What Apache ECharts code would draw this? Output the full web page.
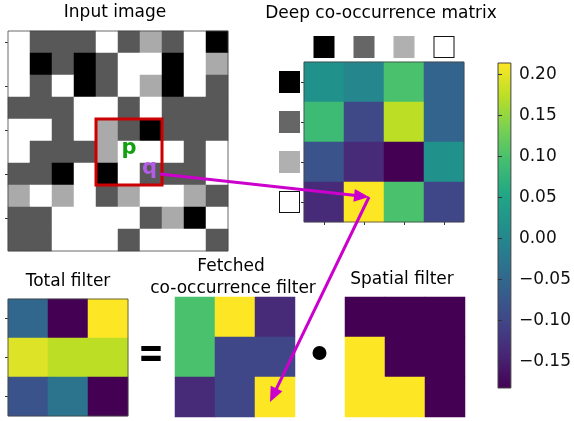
<!DOCTYPE html>
<html><head><meta charset="utf-8">
<script src="https://cdn.jsdelivr.net/npm/echarts@6/dist/echarts.min.js"></script>
<style>html,body{margin:0;padding:0;background:#fff}#c{width:574px;height:421px}</style>
</head><body><div id="c"></div>
<script>
// ---------- data ----------
const LEVELS = ['black', 'dark gray', 'light gray', 'white'];
const INPUT_COLORS = ['#000000', '#585858', '#aaaaaa', '#ffffff'];
const HEADER_COLORS = ['#000000', '#666666', '#b0b0b0', '#ffffff'];
const INPUT_IMAGE = [
  [3,1,1,1,3,1,2,1,3,0],
  [3,0,1,0,1,3,3,0,3,2],
  [3,1,3,0,1,3,2,0,3,1],
  [1,1,1,3,3,1,3,1,1,1],
  [3,3,1,3,2,1,0,1,1,1],
  [3,1,1,1,2,3,3,3,1,3],
  [1,1,0,3,0,3,1,1,1,3],
  [2,3,2,3,1,2,3,3,2,1],
  [1,1,3,3,3,3,1,2,0,3],
  [1,1,3,3,3,1,3,3,3,1]
];
const COOC = [
  [0.016, 0.000, 0.099, -0.055],
  [0.087, -0.095, 0.174, -0.055],
  [-0.079, -0.134, -0.182, 0.016],
  [-0.134, 0.214, 0.099, -0.099]
];
const TOTAL = [
  [-0.051, -0.182, 0.214],
  [0.194, 0.174, 0.174],
  [-0.079, -0.032, -0.182]
];
const FETCHED = [
  [0.099, 0.214, -0.134],
  [0.099, -0.099, -0.099],
  [-0.134, -0.099, 0.214]
];
const SPATIAL = [
  [0, 0, 0],
  [1, 0, 0],
  [1, 1, 0]
];
const CB_MIN = -0.182, CB_MAX = 0.214;
const CB_TICKS = [-0.15, -0.10, -0.05, 0.00, 0.05, 0.10, 0.15, 0.20];
const VIRIDIS = ['#440154','#482475','#414487','#355f8d','#2a788e','#21918c','#22a884','#44bf70','#7ad151','#bddf26','#fde725'];
const P_CELL = [5, 5], Q_CELL = [6, 6];          // [col,row] in input image
const WINDOW = [[4, 4], [6, 6]];                 // red window
const COOC_HIT = [1, 3];                         // [col,row] in co-occurrence matrix
const FETCH_HIT = [2, 2];                        // [col,row] in fetched filter

// ---------- helpers ----------
const FONT = '"DejaVu Sans", sans-serif';
const idx = n => Array.from({length: n}, (_, i) => i);
const toCells = m => { const out = []; m.forEach((row, r) => row.forEach((v, c) => out.push([c, r, v]))); return out; };
const catAxis = (grid, n, extra) => Object.assign({
  type: 'category', gridIndex: grid, data: idx(n), boundaryGap: true,
  axisLine: {show: false}, axisTick: {show: false}, axisLabel: {show: false}, splitLine: {show: false}
}, extra || {});
const tickStyle = {show: true, alignWithLabel: true, length: 3, lineStyle: {color: '#333', width: 1}};
const squareRich = {};
HEADER_COLORS.forEach((c, i) => {
  squareRich['s' + i] = {width: 19, height: 20, backgroundColor: c, borderColor: i === 3 ? '#111' : c, borderWidth: 1};
});
const squareLabel = (margin) => ({show: true, interval: 0, margin: margin, formatter: v => '{s' + v + '| }', rich: squareRich});
const heat = (xi, yi, m) => ({type: 'heatmap', xAxisIndex: xi, yAxisIndex: yi, data: toCells(m),
  itemStyle: {borderWidth: 0}, emphasis: {disabled: true}, progressive: 0});

const chart = echarts.init(document.getElementById('c'), null, {renderer: 'canvas'});

const option = {
  animation: false,
  backgroundColor: '#fff',
  grid: [
    {left: 8, top: 31, width: 220, height: 220},
    {left: 304, top: 62, width: 160, height: 160},
    {left: 8, top: 299, width: 120, height: 117},
    {left: 175, top: 297, width: 120, height: 120},
    {left: 345, top: 297, width: 120, height: 120},
    {left: 498, top: 63, width: 15, height: 325, show: true, borderColor: '#444', borderWidth: 1,
     backgroundColor: new echarts.graphic.LinearGradient(0, 1, 0, 0, VIRIDIS.map((c, i) => ({offset: i / (VIRIDIS.length - 1), color: c})))}
  ],
  xAxis: [
    catAxis(0, 10),
    catAxis(1, 4, {position: 'top', axisLabel: squareLabel(5)}),
    catAxis(1, 4, {position: 'bottom', axisTick: tickStyle}),
    catAxis(2, 3),
    catAxis(3, 3),
    catAxis(4, 3),
    {type: 'value', gridIndex: 5, min: 0, max: 1, show: false}
  ],
  yAxis: [
    catAxis(0, 10, {inverse: true, axisTick: Object.assign({}, tickStyle, {interval: i => i % 2 === 0})}),
    catAxis(1, 4, {inverse: true, axisTick: tickStyle, axisLabel: squareLabel(5)}),
    catAxis(2, 3, {inverse: true, axisTick: tickStyle}),
    catAxis(3, 3, {inverse: true}),
    catAxis(4, 3, {inverse: true}),
    {type: 'value', gridIndex: 5, min: CB_MIN, max: CB_MAX, position: 'right',
     splitLine: {show: false}, axisLine: {show: false},
     axisTick: {show: true, length: 4, customValues: CB_TICKS, lineStyle: {color: '#333'}},
     axisLabel: {show: true, margin: 8, customValues: CB_TICKS, color: '#111', fontSize: 17, fontFamily: FONT,
       formatter: v => (v < 0 ? '\u2212' : '') + Math.abs(v).toFixed(2)}}
  ],
  visualMap: [
    {type: 'piecewise', show: false, seriesIndex: 0, pieces: INPUT_COLORS.map((c, i) => ({value: i, color: c}))},
    {type: 'continuous', show: false, seriesIndex: [1, 2, 3], min: CB_MIN, max: CB_MAX, inRange: {color: VIRIDIS}},
    {type: 'continuous', show: false, seriesIndex: 4, min: 0, max: 1, inRange: {color: ['#440154', '#fde725']}}
  ],
  series: [
    heat(0, 0, INPUT_IMAGE),
    heat(2, 1, COOC),
    heat(3, 2, TOTAL),
    heat(4, 3, FETCHED),
    heat(5, 4, SPATIAL)
  ]
};
chart.setOption(option);

// ---------- annotations computed from the axes ----------
const px = (g, cell) => chart.convertToPixel({gridIndex: g}, cell);
const G = [];
const txt = (x, y, s, size, extra) => G.push({type: 'text', z: 100, style: Object.assign({
  x: x, y: y, text: s, font: size + 'px ' + FONT, fill: '#000', align: 'center', verticalAlign: 'middle',
  textAlign: 'center', textVerticalAlign: 'middle'}, extra || {})});

// titles
txt(115, 12.5, 'Input image', 17);
txt(381, 13.5, 'Deep co-occurrence matrix', 17);
txt(68, 282, 'Total filter', 17);
txt(231, 267, 'Fetched', 17);
txt(233, 289, 'co-occurrence filter', 17);
txt(402, 279.5, 'Spatial filter', 17);
G.push({type: 'text', z: 100, x: 151, y: 355, scaleY: 1.45, style: {x: 0, y: 0, text: '=', font: 'bold 31px ' + FONT, fill: '#000', align: 'center', verticalAlign: 'middle'}});
G.push({type: 'circle', z: 100, shape: {cx: 319.5, cy: 353, r: 7}, style: {fill: '#000'}});

// grid frames
[[0, 10, 10], [1, 4, 4], [2, 3, 3]].forEach(([g, nc, nr]) => {
  const a = px(g, [0, 0]), b = px(g, [nc - 1, nr - 1]);
  const cw = (b[0] - a[0]) / (nc - 1), ch = (b[1] - a[1]) / (nr - 1);
  G.push({type: 'rect', z: 90, shape: {x: a[0] - cw / 2, y: a[1] - ch / 2, width: b[0] - a[0] + cw, height: b[1] - a[1] + ch},
    style: {fill: 'none', stroke: '#444', lineWidth: 0.8}});
});

// red window
{
  const a = px(0, WINDOW[0]), b = px(0, WINDOW[1]);
  const cw = (b[0] - a[0]) / (WINDOW[1][0] - WINDOW[0][0]), ch = (b[1] - a[1]) / (WINDOW[1][1] - WINDOW[0][1]);
  G.push({type: 'rect', z: 95, shape: {x: a[0] - cw / 2, y: a[1] - ch / 2, width: b[0] - a[0] + cw, height: b[1] - a[1] + ch},
    style: {fill: 'none', stroke: '#cc0000', lineWidth: 3}});
}

// p, q labels
const pP = px(0, P_CELL), pQ = px(0, Q_CELL);
txt(pP[0], pP[1] - 3.5, 'p', 21, {font: 'bold 21px ' + FONT, fill: '#12a012'});
txt(pQ[0] - 1.5, pQ[1] - 5, 'q', 21, {font: 'bold 21px ' + FONT, fill: '#b45ce8'});

// arrows
function arrow(A, B) {
  const dx = B[0] - A[0], dy = B[1] - A[1], L = Math.hypot(dx, dy), ux = dx / L, uy = dy / L;
  const hl = 15, hw = 6.5;
  const bx = B[0] - ux * hl, by = B[1] - uy * hl;
  G.push({type: 'line', z: 110, shape: {x1: A[0], y1: A[1], x2: bx + ux * 2, y2: by + uy * 2}, style: {stroke: '#cc00cc', lineWidth: 3}});
  G.push({type: 'polygon', z: 110, shape: {points: [[B[0], B[1]], [bx - uy * hw, by + ux * hw], [bx + uy * hw, by - ux * hw]]}, style: {fill: '#cc00cc'}});
}
const hit = px(1, COOC_HIT), fhit = px(3, FETCH_HIT);
const tip1 = [hit[0] + 5, hit[1] - 5];
arrow([pQ[0] + 9, pQ[1]], tip1);
arrow(tip1, [fhit[0] - 5, fhit[1] + 5]);

chart.setOption({graphic: G});
</script></body></html>
